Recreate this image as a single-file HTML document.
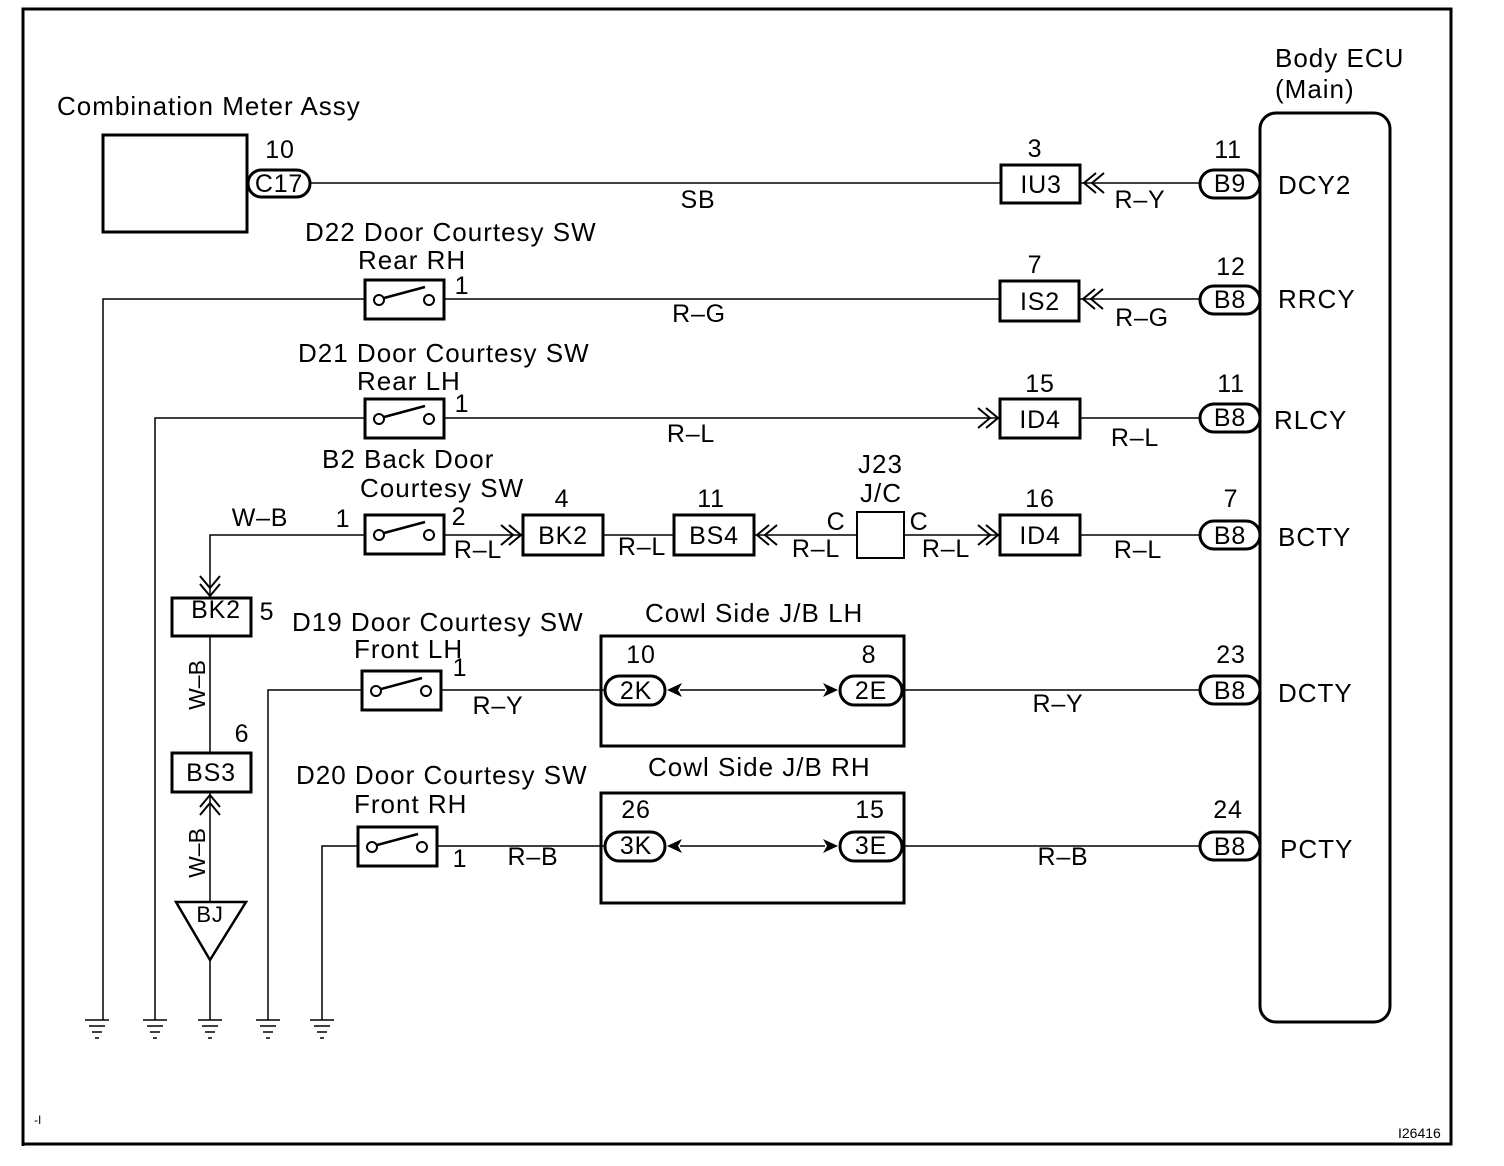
<!DOCTYPE html>
<html><head><meta charset="utf-8"><style>
html,body{margin:0;padding:0;background:#fff;}
svg{display:block;}
text{font-family:"Liberation Sans",Arial,sans-serif;fill:#000;}
</style></head><body>
<svg width="1504" height="1166" viewBox="0 0 1504 1166" xmlns="http://www.w3.org/2000/svg">
<defs>
<g id="sw">
<rect x="0" y="0" width="79" height="39" fill="none" stroke="#000" stroke-width="3"/>
<circle cx="14" cy="20" r="5" fill="#fff" stroke="#000" stroke-width="2"/>
<circle cx="64" cy="20" r="5" fill="#fff" stroke="#000" stroke-width="2"/>
<line x1="19" y1="18" x2="60" y2="7" stroke="#000" stroke-width="2.5"/>
</g>
<g id="chL" fill="none" stroke="#000" stroke-width="2">
<polyline points="12,-10 0,0 12,10"/><polyline points="20,-10 8,0 20,10"/>
</g>
<g id="chR" fill="none" stroke="#000" stroke-width="2">
<polyline points="-12,-10 0,0 -12,10"/><polyline points="-20,-10 -8,0 -20,10"/>
</g>
<g id="gnd" stroke="#000" stroke-width="1.5">
<line x1="-12" y1="0" x2="12" y2="0"/><line x1="-8" y1="6" x2="8" y2="6"/><line x1="-5" y1="12" x2="5" y2="12"/><line x1="-2" y1="18" x2="2" y2="18"/>
</g>
</defs>

<polyline points="23,1146 23,9 1451,9 1451,1144 23,1144" fill="none" stroke="#000" stroke-width="3"/>

<g font-size="26" letter-spacing="1">
<text x="57" y="115">Combination Meter Assy</text>
<text x="1275" y="67">Body ECU</text>
<text x="1275" y="98">(Main)</text>
</g>

<rect x="1260" y="113" width="130" height="909" rx="16" fill="none" stroke="#000" stroke-width="3"/>

<g stroke="#000" stroke-width="1.5" fill="none">
<line x1="310" y1="183" x2="1001" y2="183"/>
<line x1="1080" y1="183" x2="1200" y2="183"/>
<polyline points="103,1020 103,299 365,299"/>
<line x1="444" y1="299" x2="1000" y2="299"/>
<line x1="1079" y1="299" x2="1200" y2="299"/>
<polyline points="155,1020 155,418 365,418"/>
<line x1="444" y1="418" x2="1000" y2="418"/>
<line x1="1080" y1="418" x2="1200" y2="418"/>
<polyline points="210,598 210,535 365,535"/>
<line x1="444" y1="535" x2="523" y2="535"/>
<line x1="603" y1="535" x2="674" y2="535"/>
<line x1="754" y1="535" x2="857" y2="535"/>
<line x1="904" y1="535" x2="1000" y2="535"/>
<line x1="1080" y1="535" x2="1200" y2="535"/>
<line x1="210" y1="636" x2="210" y2="753"/>
<line x1="210" y1="792" x2="210" y2="902"/>
<line x1="210" y1="960" x2="210" y2="1020"/>
<polyline points="268,1020 268,690 362,690"/>
<line x1="442" y1="690" x2="605" y2="690"/>
<line x1="680" y1="690" x2="825" y2="690"/>
<line x1="902" y1="690" x2="1200" y2="690"/>
<polyline points="322,1020 322,846 357,846"/>
<line x1="437" y1="846" x2="605" y2="846"/>
<line x1="680" y1="846" x2="825" y2="846"/>
<line x1="902" y1="846" x2="1200" y2="846"/>
</g>

<use href="#gnd" x="97" y="1020"/>
<use href="#gnd" x="155" y="1020"/>
<use href="#gnd" x="210" y="1020"/>
<use href="#gnd" x="268" y="1020"/>
<use href="#gnd" x="322" y="1020"/>

<rect x="103" y="135" width="144" height="97" fill="none" stroke="#000" stroke-width="3"/>

<g fill="none" stroke="#000" stroke-width="3">
<rect x="1001" y="165" width="79" height="38"/>
<rect x="1000" y="281" width="79" height="40"/>
<rect x="1000" y="399" width="80" height="39"/>
<rect x="523" y="515" width="80" height="40"/>
<rect x="674" y="515" width="80" height="40"/>
<rect x="857" y="512" width="47" height="46" stroke-width="2"/>
<rect x="1000" y="515" width="80" height="40"/>
<rect x="172" y="598" width="79" height="38"/>
<rect x="172" y="753" width="79" height="39"/>
<rect x="601" y="636" width="303" height="110"/>
<rect x="601" y="793" width="303" height="110"/>
<polygon points="176,902 246,902 210,960" stroke-width="2.5"/>
<rect x="248" y="170" width="62" height="27" rx="13.5"/>
<rect x="1200" y="170" width="60" height="28" rx="14"/>
<rect x="1200" y="286" width="60" height="28" rx="14"/>
<rect x="1200" y="404" width="60" height="28" rx="14"/>
<rect x="1200" y="521" width="60" height="28" rx="14"/>
<rect x="1200" y="676" width="60" height="28" rx="14"/>
<rect x="1200" y="832" width="60" height="28" rx="14"/>
<rect x="605" y="676" width="60" height="29" rx="14.5"/>
<rect x="840" y="676" width="62" height="29" rx="14.5"/>
<rect x="605" y="832" width="60" height="29" rx="14.5"/>
<rect x="840" y="832" width="62" height="29" rx="14.5"/>
</g>

<use href="#sw" x="365" y="280"/>
<use href="#sw" x="365" y="399"/>
<use href="#sw" x="365" y="515"/>
<use href="#sw" x="362" y="671"/>
<use href="#sw" x="358" y="827"/>

<use href="#chL" x="1084" y="183"/>
<use href="#chL" x="1083" y="299"/>
<use href="#chR" x="998" y="418"/>
<use href="#chR" x="521" y="535"/>
<use href="#chL" x="757" y="535"/>
<use href="#chR" x="998" y="535"/>
<g transform="translate(210,596) rotate(90)"><use href="#chR"/></g>
<g transform="translate(210,795) rotate(-90)"><use href="#chR"/></g>

<g fill="#000">
<polygon points="667,690 682,683 678,690 682,697"/>
<polygon points="838,690 823,683 827,690 823,697"/>
<polygon points="667,846 682,839 678,846 682,853"/>
<polygon points="838,846 823,839 827,846 823,853"/>
</g>

<g font-size="26" letter-spacing="1">
<text x="305" y="241">D22 Door Courtesy SW</text>
<text x="358" y="269">Rear RH</text>
<text x="298" y="362">D21 Door Courtesy SW</text>
<text x="357" y="390">Rear LH</text>
<text x="322" y="468">B2 Back Door</text>
<text x="360" y="497">Courtesy SW</text>
<text x="292" y="631">D19 Door Courtesy SW</text>
<text x="354" y="658">Front LH</text>
<text x="296" y="784">D20 Door Courtesy SW</text>
<text x="354" y="813">Front RH</text>
<text x="645" y="622">Cowl Side J/B LH</text>
<text x="648" y="776">Cowl Side J/B RH</text>
<text x="858" y="473">J23</text>
<text x="860" y="502">J/C</text>
</g>
<g font-size="25" letter-spacing="0.8" text-anchor="middle">
<text x="280" y="158">10</text>
<text x="279" y="192">C17</text>
<text x="698" y="208">SB</text>
<text x="1035" y="157">3</text>
<text x="1041" y="193">IU3</text>
<text x="1140" y="208">R–Y</text>
<text x="1228" y="158">11</text>
<text x="1230" y="192">B9</text>
<text x="462" y="294">1</text>
<text x="699" y="322">R–G</text>
<text x="1035" y="273">7</text>
<text x="1040" y="310">IS2</text>
<text x="1142" y="326">R–G</text>
<text x="1231" y="275">12</text>
<text x="1230" y="308">B8</text>
<text x="462" y="412">1</text>
<text x="691" y="442">R–L</text>
<text x="1040" y="392">15</text>
<text x="1040" y="428">ID4</text>
<text x="1135" y="446">R–L</text>
<text x="1231" y="392">11</text>
<text x="1230" y="426">B8</text>
<text x="260" y="526">W–B</text>
<text x="343" y="527">1</text>
<text x="459" y="525">2</text>
<text x="478" y="558">R–L</text>
<text x="562" y="507">4</text>
<text x="563" y="544">BK2</text>
<text x="642" y="555">R–L</text>
<text x="711" y="507">11</text>
<text x="714" y="544">BS4</text>
<text x="816" y="557">R–L</text>
<text x="836" y="530">C</text>
<text x="919" y="530">C</text>
<text x="946" y="557">R–L</text>
<text x="1040" y="507">16</text>
<text x="1040" y="544">ID4</text>
<text x="1138" y="558">R–L</text>
<text x="1231" y="507">7</text>
<text x="1230" y="544">B8</text>
<text x="216" y="618">BK2</text>
<text x="267" y="620">5</text>
<text x="242" y="742">6</text>
<text x="211" y="781">BS3</text>
<text x="210" y="922" font-size="22">BJ</text>
<text x="460" y="676">1</text>
<text x="498" y="714">R–Y</text>
<text x="641" y="663">10</text>
<text x="636" y="699">2K</text>
<text x="869" y="663">8</text>
<text x="871" y="699">2E</text>
<text x="1058" y="712">R–Y</text>
<text x="1231" y="663">23</text>
<text x="1230" y="699">B8</text>
<text x="460" y="867">1</text>
<text x="533" y="865">R–B</text>
<text x="636" y="818">26</text>
<text x="636" y="854">3K</text>
<text x="870" y="818">15</text>
<text x="871" y="854">3E</text>
<text x="1063" y="865">R–B</text>
<text x="1228" y="818">24</text>
<text x="1230" y="855">B8</text>
</g>
<g font-size="26" letter-spacing="1">
<text x="1278" y="194">DCY2</text>
<text x="1278" y="308">RRCY</text>
<text x="1274" y="429">RLCY</text>
<text x="1278" y="546">BCTY</text>
<text x="1278" y="702">DCTY</text>
<text x="1280" y="858">PCTY</text>
</g>
<g font-size="23" text-anchor="middle">
<text transform="translate(205,685) rotate(-90)">W–B</text>
<text transform="translate(205,853) rotate(-90)">W–B</text>
</g>
<text x="1398" y="1138" font-size="14">I26416</text>
<text x="34" y="1124" font-size="12">-I</text>
</svg>
</body></html>
